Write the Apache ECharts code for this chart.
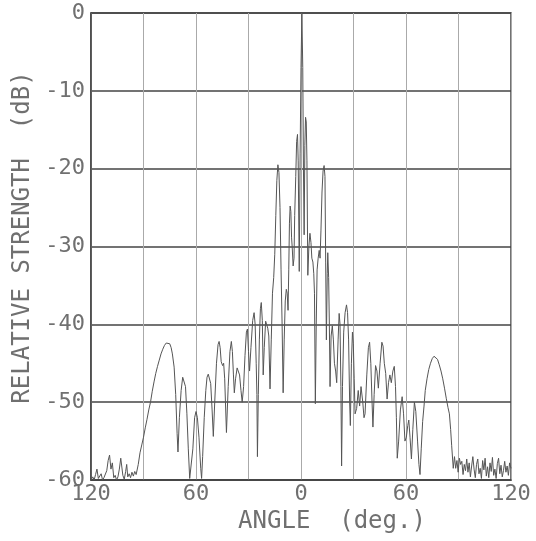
<!DOCTYPE html>
<html>
<head>
<meta charset="utf-8">
<script src="https://cdn.jsdelivr.net/npm/echarts@6/dist/echarts.min.js"></script>
<style>
  html, body { margin: 0; padding: 0; background: #fff; }
  #main { width: 536px; height: 541px; }
</style>
</head>
<body>
<div id="main"></div>
<script>
// [angle (deg), relative strength (dB)], left to right
var leftFloor = [
    [-120, -60], [-119, -59.6], [-118.2, -60], [-117.4, -59.3], [-116.6, -58.6],
    [-115.8, -59.8], [-115, -60], [-114.2, -59.2], [-113.4, -60], [-112.6, -59.7],
    [-111.8, -59.9], [-111, -58.8], [-110.2, -57.5], [-109.4, -56.8], [-108.6, -58.6],
    [-107.8, -57.8], [-107, -59.7], [-106.2, -59.4], [-105.4, -60], [-104.6, -59.6],
    [-103.8, -58.6], [-103, -57.2], [-102.4, -57], [-101.8, -59.4], [-101, -59.9],
    [-100.2, -58.9], [-99.6, -58], [-99, -59.6], [-98.2, -59.2], [-97.4, -59.7],
    [-96.6, -59], [-95.8, -59.5], [-95, -58.9], [-94.2, -59.3]
];

var leftLobes = [
    [-93, -58], [-92, -56.5], [-91, -55.5], [-90, -54.5], [-89, -53.3], [-88, -52.2],
    [-87, -51], [-86, -50], [-85, -48.6], [-84, -47.4], [-83, -46.3], [-82, -45.4],
    [-81, -44.6], [-80, -43.8], [-79, -43.2], [-78, -42.7], [-77, -42.4], [-76, -42.3],
    [-75, -42.5], [-74.2, -43], [-73.5, -43.8], [-72.5, -45.5], [-71.6, -49], [-70.8, -54],
    [-70.3, -56.4], [-69.5, -52], [-68.5, -48.5], [-67.6, -46.8], [-66.8, -46.6], [-66, -48],
    [-65.2, -51.5], [-64.4, -56], [-63.6, -59.8], [-62.6, -59.8], [-61.8, -56], [-60.8, -52],
    [-60, -51.2], [-59.2, -52], [-58.3, -54.5], [-57.3, -58.5], [-56.8, -59.8], [-56.2, -57],
    [-55.3, -52], [-54.4, -48.5], [-53.7, -46.8], [-53, -46.4], [-52.2, -46.4], [-51.6, -47.6],
    [-50.8, -51], [-50.1, -54.4], [-49.3, -50], [-48.3, -45], [-47.4, -42.6], [-46.8, -42.2],
    [-46.2, -43], [-45.6, -44.8], [-44.8, -45.3], [-44.2, -45], [-43.6, -47], [-42.6, -53.9],
    [-41.6, -48], [-40.6, -43.5], [-39.8, -42.2], [-39.2, -43.5], [-38.6, -46.5], [-38.1, -48.8],
    [-37.4, -47], [-36.5, -45.6], [-35.8, -45.5], [-35.1, -46.5], [-34.3, -48.5], [-33.6, -50],
    [-32.8, -48], [-32, -44], [-31.2, -41], [-30.6, -40.6], [-30, -43.5], [-29.4, -46],
    [-28.6, -43], [-27.6, -39.5], [-26.8, -38.5], [-26.2, -40], [-25.6, -45], [-25.2, -49],
    [-24.9, -57], [-24.4, -49], [-23.8, -42], [-23.2, -38], [-22.7, -37.2], [-22.1, -39.5],
    [-21.6, -46.5], [-21, -43], [-20.2, -39.6], [-19.6, -39.4], [-19, -40.5], [-18.4, -41.5],
    [-17.7, -48.3], [-17, -42], [-16.3, -36], [-15.6, -34], [-15, -31], [-14.4, -26],
    [-13.8, -21.5]
];

var mainLobes = [
    [-13.2, -19.5], [-12.6, -20.5], [-12, -25], [-11.4, -33], [-10.8, -40], [-10.2, -48.8],
    [-9.6, -42], [-9, -37], [-8.4, -35.5], [-7.9, -36], [-7.4, -38.2], [-7, -33],
    [-6.6, -27], [-6.2, -24.8], [-5.8, -25.5], [-5.4, -28.8], [-5, -30.2], [-4.5, -32.5],
    [-4, -31.5], [-3.6, -26], [-3, -21], [-2.5, -16.5], [-2, -15.6], [-1.6, -19],
    [-1, -33.2], [-0.5, -18], [0, -7], [0.5, 0], [1, -7], [1.4, -20],
    [1.8, -28.5], [2.2, -17], [2.6, -13.4], [3, -14], [3.4, -19], [3.9, -33.7],
    [4.5, -30], [5.1, -28.3], [5.7, -29.5], [6.2, -31.5], [6.8, -32], [7.3, -33.5],
    [7.7, -36], [8.2, -50.2], [8.7, -40], [9.2, -33], [9.8, -31.5], [10.4, -30.5],
    [10.9, -31.5], [11.4, -28], [12, -23], [12.6, -20.3], [13.2, -19.6], [13.7, -21]
];

var rightLobes = [
    [14.1, -32], [14.5, -42], [15, -33.5], [15.3, -30.8], [15.8, -34], [16.2, -40],
    [16.6, -48], [17.2, -41.5], [17.9, -40.2], [18.5, -42], [19.1, -45], [19.8, -46],
    [20.4, -47.5], [21.2, -42], [21.8, -38.6], [22.3, -40], [22.8, -48], [23.2, -58.2],
    [23.7, -48], [24.4, -41], [25.2, -38.5], [26, -37.5], [26.6, -38.5], [27.2, -42],
    [27.8, -50], [28.2, -53], [28.8, -45], [29.4, -41], [29.9, -42.5], [30.4, -47],
    [30.9, -51.5], [31.8, -50.8], [32.7, -48.5], [33.5, -50.5], [34.3, -48], [35.3, -50],
    [36, -52], [36.6, -51.5], [37.6, -46.5], [38.5, -43], [39.2, -42.3], [39.9, -45],
    [40.6, -50], [41.1, -53.2], [41.8, -49], [42.6, -45.3], [43.4, -46], [44.2, -48.2],
    [45.2, -45], [46.2, -42.3], [46.9, -42.8], [47.6, -45], [48.4, -46.3], [49.2, -49.6],
    [50, -47.5], [50.8, -46.5], [51.6, -47.5], [52.5, -46], [53.3, -45.4], [54, -48],
    [54.5, -52], [55, -57.2], [55.8, -55], [56.8, -51], [57.8, -49.3], [58.6, -51.5],
    [59.4, -55], [60.2, -54.5], [61, -53], [61.6, -52.3], [62.3, -54.5], [63.1, -57.3],
    [63.9, -53.5], [64.8, -50], [65.6, -51.2], [66.6, -55], [67.4, -58], [68, -59.3],
    [68.7, -56], [69.5, -52.5], [70.3, -50.5], [71, -48.5], [72, -47], [73, -45.8],
    [74, -45], [75, -44.4], [76, -44.1], [77, -44.1], [78, -44.5], [79, -45.2],
    [80, -46], [81, -47], [82, -48.2], [83, -49.5], [84, -50.7], [84.8, -51.5],
    [85.5, -53.5], [86.1, -55.6], [87, -58.5]
];

var rightFloor = [
    [87.7, -57], [88.4, -58.5], [89.1, -57.5], [89.8, -59], [90.5, -57.2], [91.2, -58],
    [91.9, -57.6], [92.6, -59.3], [93.3, -58], [94, -58.8], [94.7, -57.3], [95.4, -59],
    [96.1, -57.8], [96.8, -59.6], [97.5, -58.2], [98.2, -57], [98.9, -58.6], [99.6, -59.7],
    [100.3, -58], [101, -57.3], [101.7, -59.2], [102.4, -58.5], [103.1, -59.8], [103.8, -57.5],
    [104.5, -58.7], [105.2, -57.2], [105.9, -59.5], [106.6, -58.3], [107.3, -59.7], [108, -57.8],
    [108.7, -58.9], [109.4, -57.1], [110.1, -59.4], [110.8, -58.6], [111.5, -59.8], [112.2, -57.9],
    [112.9, -57.2], [113.6, -59.2], [114.3, -58.1], [115, -59.6], [115.7, -58.8], [116.4, -57.6],
    [117.1, -59], [117.8, -58.2], [118.5, -59.4], [119.2, -57.8], [120, -58.5]
];

var xLabelValues = [-120, -60, 0, 60, 120];
var xLabelTexts = ['120', '60', '0', '60', '120'];

var chart = echarts.init(document.getElementById('main'));

var textFont = 'DejaVu Sans Mono';
var textColor = '#707070';

chart.setOption({
    backgroundColor: '#fff',
    animation: false,
    grid: {
        left: 91,
        right: 25,
        top: 13,
        bottom: 61,
        containLabel: false,
        show: true,
        borderColor: '#444',
        borderWidth: 1.5
    },
    xAxis: {
        type: 'value',
        min: -120,
        max: 120,
        interval: 30,
        name: 'ANGLE  (deg.)',
        nameLocation: 'middle',
        nameGap: 30,
        nameTextStyle: {
            fontFamily: textFont,
            fontSize: 24,
            color: textColor,
            padding: [0, 0, 0, 62]
        },
        axisLine: { show: true, onZero: false, lineStyle: { color: '#444', width: 1.5 } },
        axisTick: { show: false },
        axisLabel: {
            margin: 3,
            fontFamily: textFont,
            fontSize: 22,
            color: textColor,
            formatter: function (value) {
                var idx = xLabelValues.indexOf(value);
                return idx >= 0 ? xLabelTexts[idx] : '';
            }
        },
        splitLine: { show: true, lineStyle: { color: '#aaa', width: 1 } }
    },
    yAxis: {
        type: 'value',
        min: -60,
        max: 0,
        interval: 10,
        name: 'RELATIVE STRENGTH  (dB)',
        nameLocation: 'middle',
        nameGap: 54,
        nameTextStyle: {
            fontFamily: textFont,
            fontSize: 24,
            color: textColor,
            padding: [0, 0, 0, 18]
        },
        axisLine: { show: true, onZero: false, lineStyle: { color: '#444', width: 1.5 } },
        axisTick: { show: false },
        axisLabel: {
            margin: 6,
            fontFamily: textFont,
            fontSize: 22,
            color: textColor
        },
        splitLine: { show: true, lineStyle: { color: '#444', width: 1.5 } }
    },
    series: [
        {
            type: 'line',
            data: leftFloor.concat(leftLobes, mainLobes, rightLobes, rightFloor),
            showSymbol: false,
            smooth: false,
            lineStyle: { color: '#555', width: 1 }
        }
    ]
});
</script>
</body>
</html>
